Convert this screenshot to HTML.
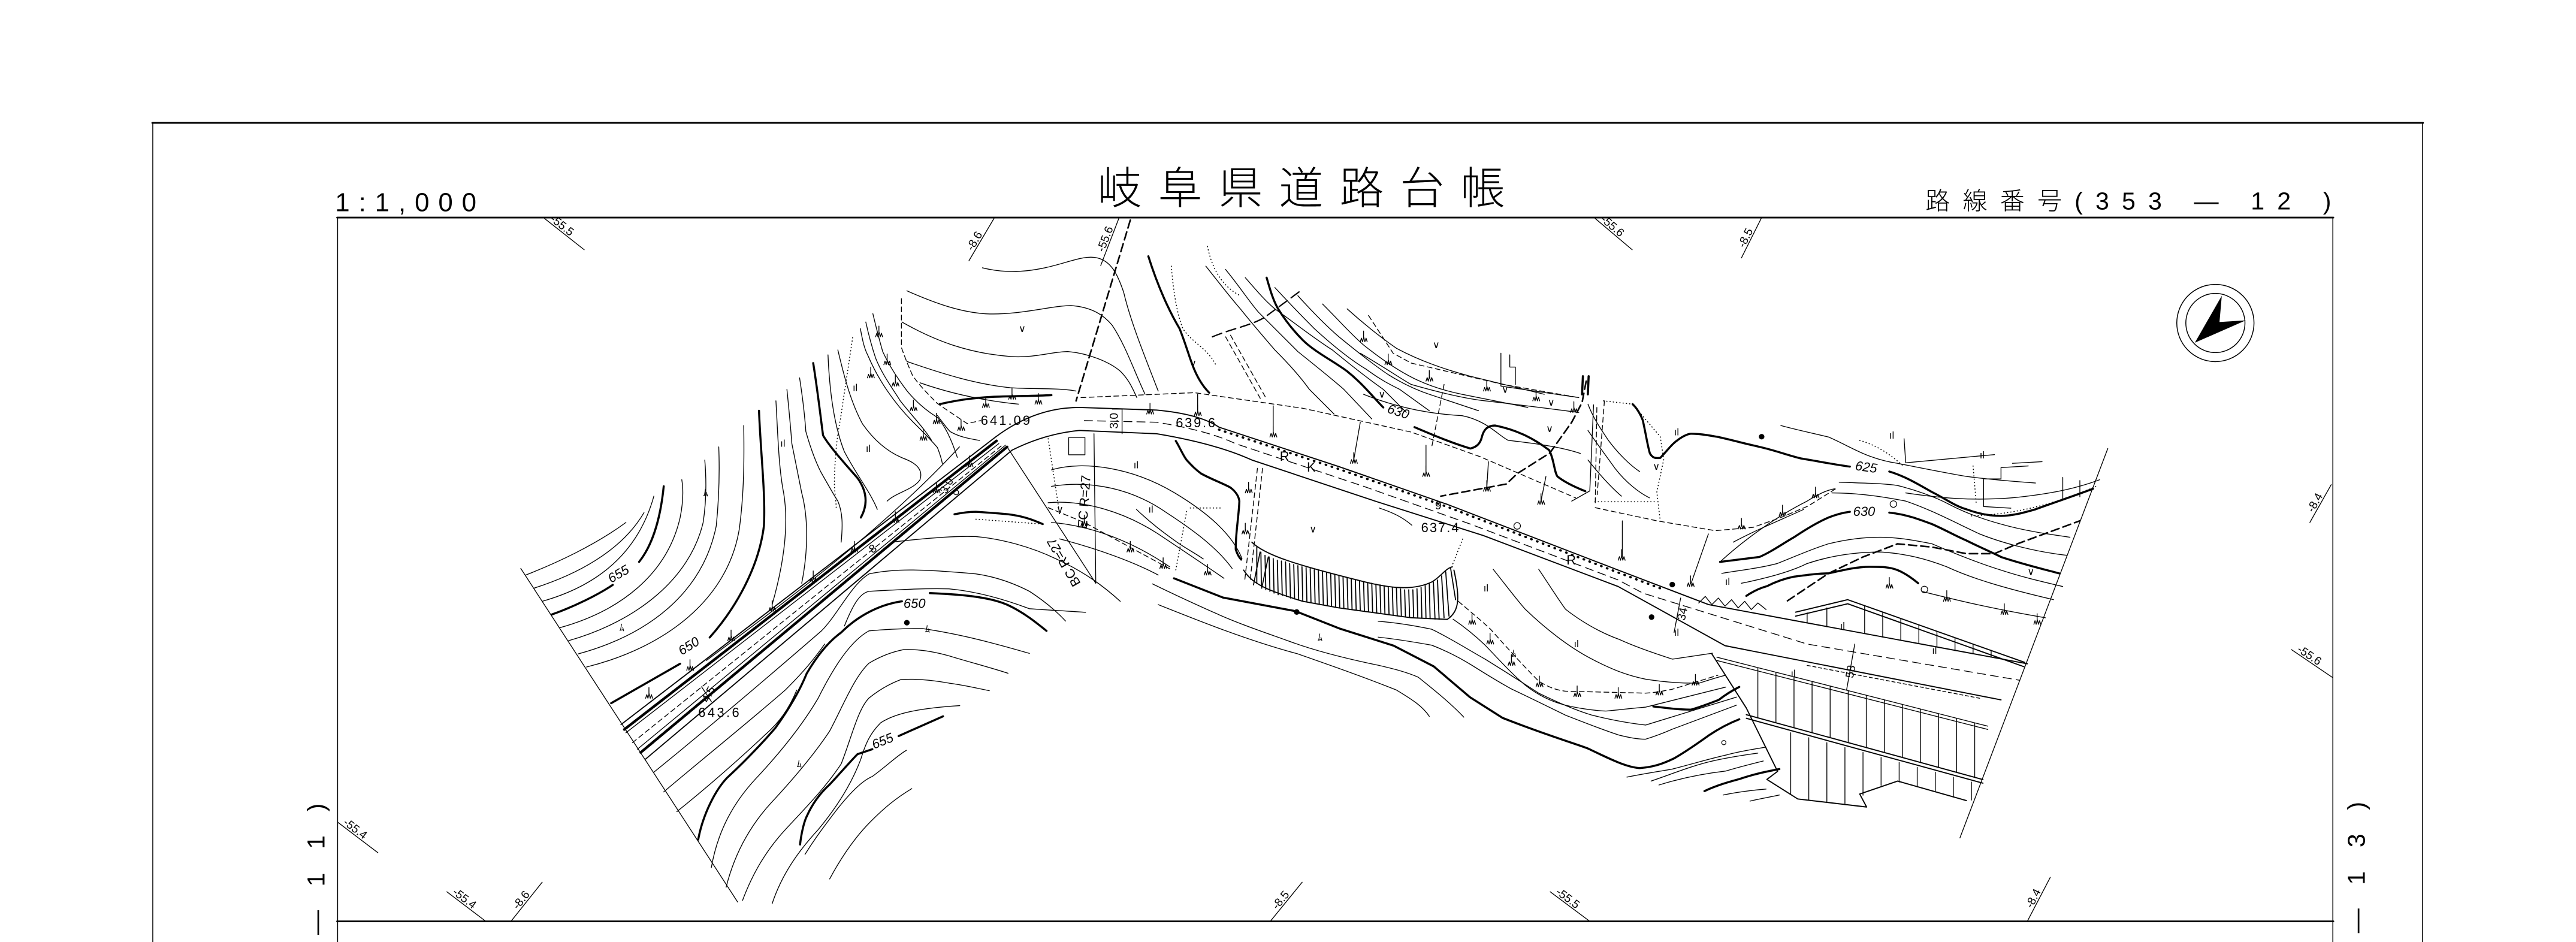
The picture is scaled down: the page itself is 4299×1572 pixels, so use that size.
<!DOCTYPE html>
<html><head><meta charset="utf-8"><style>
html,body{margin:0;padding:0;background:#fff;width:4299px;height:1572px;overflow:hidden}
svg{position:absolute;left:0;top:0}
path,line,polyline{fill:none;stroke:#000;stroke-linecap:round;stroke-linejoin:round}
.t{stroke-width:.5}.m{stroke-width:.7}.k{stroke-width:1.25}
.d{stroke-dasharray:3,2}.D{stroke-width:.95;stroke-dasharray:5,2.5}
.o{stroke-width:.6;stroke-dasharray:.2,1.8}
.h{stroke-width:1.6;stroke-dasharray:.7,.6}
.tk{stroke-width:1.4;stroke-dasharray:.3,3.5}
text{font-family:"Liberation Sans",sans-serif;fill:#000}
.sm{font-size:7px}.lb{font-size:8px}.veg{font-size:6px}
</style></head><body>
<svg width="4299" height="1572" viewBox="0 0 1568 573.36" preserveAspectRatio="none" xmlns="http://www.w3.org/2000/svg">
<defs><path id="w" d="M-2,0 l.7,-2.2 l.7,2.2 l.7,-2.8 l.7,2.8 l.7,-2.2 l.7,2.2 M0,-2.5 l0,-4" class="t"/></defs>
<rect x="0" y="0" width="1568" height="573.36" fill="#fff"/>
<!-- frames -->
<path d="M93,573.4 L93,74.8 M1474.6,74.8 L1474.6,573.4 M205.5,573.4 L205.5,132.4 M1420,132.4 L1420,573.4" style="stroke-width:.55"/>
<path d="M92.7,74.8 L1474.9,74.8 M205.2,132.4 L1420.3,132.4 M205.2,560.8 L1420.3,560.8" style="stroke-width:1.05"/>
<!-- header text -->
<text x="204" y="128.5" style="font-size:16px" textLength="86" lengthAdjust="spacing">1:1,000</text>
<text x="668" y="124" style="font-family:'Liberation Sans','Noto Sans CJK JP',sans-serif;font-size:27px;font-weight:300" textLength="248" lengthAdjust="spacing">岐阜県道路台帳</text>
<text x="1172" y="127.5" style="font-family:'Liberation Sans','Noto Sans CJK JP',sans-serif;font-size:15px;font-weight:300" textLength="247" lengthAdjust="spacing">路線番号(353 — 12 )</text>
<text transform="translate(197.5,569) rotate(-90)" style="font-size:15px" textLength="80" lengthAdjust="spacing">— 1 1 )</text>
<text transform="translate(1439.5,568) rotate(-90)" style="font-size:15px" textLength="80" lengthAdjust="spacing">— 1 3 )</text>
<!-- north arrow -->
<circle cx="1348.5" cy="196.6" r="23.5" fill="none" stroke="#000" stroke-width=".55"/>
<circle cx="1348.5" cy="196.6" r="18" fill="none" stroke="#000" stroke-width=".55"/>
<polygon points="1352.4,180 1351,196 1367,195 1336,208.6" fill="#000"/>
<!-- grid ticks -->
<g class="t">
<path d="M331.5,133 L355.6,152 M971,133 L993.5,152 M1394.8,395.4 L1420,412.5 M205.5,500.4 L230,519 M272,542.8 L296,561 M943.6,542.8 L968,561"/>
<path d="M589.8,158.7 L605,133 M670,161.6 L681,133 M1060,157 L1072,133 M1406,318 L1419,295 M311,560.8 L330,537 M773.2,560.8 L792.6,537 M1234,560.8 L1248,534"/>
</g>
<g class="sm">
<text transform="translate(331.5,133) rotate(38.3)" x="3" y="-1">-55.5</text>
<text transform="translate(971,133) rotate(40.2)" x="3" y="-1">-55.6</text>
<text transform="translate(1394.8,395.4) rotate(34.2)" x="3" y="-1">-55.6</text>
<text transform="translate(205.5,500.4) rotate(37.2)" x="3" y="-1">-55.4</text>
<text transform="translate(272,542.8) rotate(37.2)" x="3" y="-1">-55.4</text>
<text transform="translate(943.6,542.8) rotate(36.7)" x="3" y="-1">-55.5</text>
<text transform="translate(589.8,158.7) rotate(-59.4)" x="6" y="-1">-8.6</text>
<text transform="translate(670,161.6) rotate(-69)" x="8" y="-1">-55.6</text>
<text transform="translate(1060,157) rotate(-63.4)" x="6" y="-1">-8.5</text>
<text transform="translate(1406,318) rotate(-60.5)" x="6" y="-1">-8.4</text>
<text transform="translate(311,560.8) rotate(-51.4)" x="8" y="-1">-8.6</text>
<text transform="translate(773.2,560.8) rotate(-50.8)" x="8" y="-1">-8.5</text>
<text transform="translate(1234,560.8) rotate(-62.4)" x="8" y="-1">-8.4</text>
</g>
<!-- map boundaries -->
<path class="t" d="M317,346 L449,549 M1283,273 L1193,510"/>
<!-- ROAD -->
<path class="m" d="M378,441 L606,266 Q630,248 657,248 L704,249.6 Q730,252 742,260 L815,284 L881,307 L985,347 L1040,368 L1234,404"/>
<path class="h" d="M380,444 L607,268"/>
<path class="t" d="M381,446 L608,270"/>
<path class="t d" d="M385,452 L610,271"/>
<path class="t" d="M388,456 L612,271"/>
<path class="h" d="M390,458 L613,272"/>
<path class="m" d="M393,462 L616,274 Q636,264 657,262 L704,264 Q740,270 762,280 L837,305 L903,326 L985,357 L1050,393 L1218,426"/>
<path class="t" style="stroke-dasharray:5,3" d="M660,256 L704,257 Q735,262 752,270 L830,296 L895,319 L985,353 L1000,361 L1100,392 L1229,414"/>
<path class="tk" d="M742,261.5 L815,285.5 L881,308.5 L985,348.5 L1013,359"/>
<path class="t" style="stroke-dasharray:2,1.5" d="M1100,405 L1205,425"/>
<path class="t" d="M1045,400 L1210,442 M1045,402 L1210,444"/>
<path class="t" d="M1034,367 L1038,363 L1042,368 L1046,364 L1050,369 L1054,365 L1058,370 L1062,366 L1066,371 L1070,367 L1075,371"/>
<!-- upper wall structure -->
<path class="m" d="M1093,372.6 L1124.7,365 L1232.5,403.2 M1093,375 L1124.7,367.5 L1232,405.8"/>
<path class="t" d="M1100,373 L1100,379 M1112,370 L1112,381 M1135,368.6 L1135,385.7 M1146,372.5 L1146,387.8 M1157,376.4 L1157,389.8 M1168,380.3 L1168,391.9 M1179,384.2 L1179,393.9 M1190,388.1 L1190,396 M1201,392 L1201,398 M1212,395.9 L1212,400.1"/>
<!-- lower wall structure -->
<path class="m" d="M1042,398 L1063,431 L1082,469.5 L1075.5,474.4 L1094.3,486.3 L1136.2,491.2 L1132,483.3 L1155.1,475.4 L1197,487.3"/>
<path class="m" d="M1063,435 L1207,474.5 M1063,437.2 L1207,476.7"/>
<path class="t" d="M1070,406.4 L1070,436.9 M1081,409.2 L1081,439.9 M1092,412 L1092,443 M1103,414.8 L1103,446 M1114,417.6 L1114,449 M1125,420.4 L1125,452 M1136,423.2 L1136,455 M1147,426 L1147,458 M1158,428.8 L1158,461 M1169,431.6 L1169,464 M1180,434.4 L1180,467 M1191,437.2 L1191,470 M1202,440 L1202,473"/>
<path class="t" d="M1090,446 L1090,483 M1101,449 L1101,487 M1112,452 L1112,488 M1123,455 L1123,489 M1134,458 L1134,484 M1145,461 L1145,478 M1156,464 L1156,476 M1167,467 L1167,479 M1178,470 L1178,482 M1189,473 L1189,485 M1200,476 L1200,487"/>
<!-- CLIFF -->
<path class="m" d="M762,330 C770,338 790,344 826,353 C845,358 860,360 872,354 C878,350 880,346 884,345"/>
<path class="m" d="M757,347 C762,355 770,359 793,366 L815,370 L837,373 L859,376 L881,377 C888,372 889,365 885,347"/>
<path style="stroke-width:.65" d="M765,333 L765,355 M767.5,336 L767.8,357 M770,338 L770.5,359 M772.5,339 L773,360 M775,340 L775.5,361 M777.5,341 L778,362 M780,341.5 L780.5,362.5 M782.5,342 L783,363 M785,343 L785.5,364 M787.5,343.6 L788,364.6 M790,344.3 L790.5,365.3 M792.5,345 L793,365.8 M795,345.5 L795.5,366.2 M797.5,346 L798,366.7 M800,346.8 L800.5,367.2 M802.5,347.4 L803,367.6 M805,348 L805.5,368.1 M807.5,348.6 L808,368.5 M810,349.2 L810.5,369 M812.5,349.8 L813,369.5 M815,350.5 L815.5,370 M817.5,351 L818,370.3 M820,351.7 L820.5,370.7 M822.5,352.3 L823,371 M825,353 L825.5,371.4 M827.5,353.5 L828,371.7 M830,354 L830.5,372 M832.5,354.5 L833,372.4 M835,355 L835.5,372.7 M837.5,355.5 L838,373 M840,356 L840.5,373.4 M842.5,356.5 L843,373.7 M845,357 L845.5,374.1 M847.5,357.5 L848,374.4 M850,358 L850.5,374.8 M852.5,358.5 L853,375.1 M855,359 L855.5,375.4 M857.5,359 L858,375.7 M860,359 L860.5,376 M862.5,358.3 L863,376.1 M865,357.5 L865.5,376.3 M867.5,356.5 L868,376.5 M870,355.5 L870.5,376.6 M872.5,354.3 L873.5,376.8 M875,353 L876,377 M877.5,350.5 L879,376 M880,348 L882,375 M883,346 L886,365 M767,336 L763,356 M772,339 L768,358"/>
<path class="k" d="M715.7,268.4 C718,272 720,277 722.3,280 C726,284 728,286 731.2,288.3 C738,292 744,294 748.9,296.7 C752,299 754,302 754.4,305 C754,315 752,325 752.2,334.4 C753,337 754,339 755.5,340.6"/>
<path class="t d" d="M765.4,285 L757.7,353 M768.5,285 L761,353"/>
<!-- thick dashed parcel lines -->
<path class="D" d="M688,134 L655,244"/>
<path class="D" d="M965.5,232 L963,245 L956.7,257 L943.4,275.7 L923.5,288.3 L916.9,294.6 L877,302"/>
<path class="D" d="M1088,365.7 L1113,349 L1134,339 L1155,331 L1176,333 L1197,337 L1214,337 L1228,331 L1266,317"/>
<path class="D" style="stroke-dasharray:6,3;stroke-width:.8" d="M738,205 C750,200 762,198 770,193 L793,176"/>
<!-- thin dashed fences -->
<path class="t d" d="M658,242 L727,239 L793,248.5 L859,263 L901,278 L959,303"/>
<path class="t d" d="M833,192 L848,215 L859,221 L915,234 L961,242"/>
<path class="t d" d="M971,309 L1008.5,317 L1044,323 L1067,321 L1084,315 L1100.6,308 L1117.4,297.5"/>
<path class="t d" d="M548.7,181.8 L548.7,211.6 C551,218 553,223 555.5,228.6 C560,235 565,240 570.6,245.6 C577,250 583,254 588.7,257.8 L597,256"/>
<path class="t d" d="M638,309 L660,318 L713.5,347"/>
<path class="t d" d="M887.7,366 C897,374 902,378 907.3,383 C918,395 928,406 936.6,414.6 C942,418 947,420 952.9,420.7 L1001.7,421.9 C1008,421.5 1013,420.5 1018,419.5 L1045.7,411"/>
<path class="t d" d="M879,234 L871.6,271.5 M976.6,244 L972.2,301 M972,248 L971,307"/>
<path class="t d" d="M746,205 L768,244 M749,204 L771,243"/>
<!-- REGION A: arcs upper-left -->
<g class="t">
<path d="M320,350 C338,343 362,332 381,318"/>
<path d="M325,358 C350,350 378,336 392,312"/>
<path d="M330,366 C362,357 388,338 398,302"/>
<path d="M341,382 C377,372 406,350 414,315 C416,305 416,298 415,292"/>
<path d="M346,390 C388,378 420,352 428,318 C430,305 430,292 429,280"/>
<path d="M352,398 C396,386 428,360 436,320 C438,300 438,285 437.5,272"/>
<path d="M357,406 C405,394 443,365 450,322 C453,300 453,278 452.7,259"/>
<path d="M472.3,244 C473.5,265 474,285 477,300 C480,318 478,340 470,368"/>
<path d="M479,237 C480.5,252 481.4,262 482,270 C484,280 486,290 488,300 C492,315 492,335 488,355"/>
<path d="M486.7,230 C489,245 490,255 490.5,262.6 C494,275 497,282 499.5,287 C504,295 508,302 510,305 C513,312 513,320 512,330"/>
<path d="M504,216 C505,240 508,260 514,275 C522,290 530,300 534,310"/>
<path d="M510,213 C514,230 518,245 525,258 C532,268 540,275 550,279 C558,282 562,286 560,292 C556,298 545,300 540,305"/>
<path d="M430,402 C480,365 540,320 584,272"/>
<path d="M523.7,200 C525,207 526,212 528.3,216.4 C532,225 536,232 540.4,238.3 C545,245 550,251 555.5,256.6 C561,262 566,267 570.6,272.4 C572,276 573,279 573.6,282.1"/>
<path d="M531.3,190.9 C533,198 535,206 537.3,214 C541,222 546,230 552.4,238.3 C558,245 564,250 570.6,254.1 C576,260 580,270 582.7,278.4"/>
<path d="M527,196 C529,205 531,212 533,218 C537,228 543,236 548,244 C555,253 562,260 567,268"/>
<path d="M570.6,252.9 C573,256 575,259 578.2,262.6 C584,266 590,267 596.3,268.1"/>
</g>
<path class="k" d="M336,374 C350,369 364,362 373,356 M389,342 C397,332 402,316 404,296"/>
<path class="k" d="M372,428 L414,404 M432,388 C448,370 462,345 465,320 C466,300 463,276 462,250"/>
<path class="k" d="M495,221 C498,240 500,258 501,265 C505,272 515,283 522,291 C527,298 529,306 524,315"/>
<path class="k" d="M572,246 C585,243 595,242 605,241.5 C620,241 630,241 640,240.5"/>
<path class="o" d="M519,205.5 C516,226 513,245 511.6,255 C509,268 508,282 507.9,294.5 C508,300 509,305 509,310"/>
<path class="o" d="M594,316 L634.7,319 M638,267 L645,313"/>
<!-- top-middle waves -->
<g class="t">
<path d="M598,163 C610,166 622,166 636,163 C650,160 660,155 668,157 C676,159 680,166 684,178 C688,195 696,215 705,238"/>
<path d="M552,177 C570,185 585,190 600,191 C620,192 640,186 652,186 C665,187 672,192 677,198 C685,210 690,225 697,240"/>
<path d="M549,196 C570,208 590,215 615,217 C630,218 640,214 650,214 C662,215 675,220 682,226 C688,232 690,238 692,242"/>
<path d="M552,220 C575,228 595,234 615,236 C630,237 645,236 655,238"/>
<path d="M560,233 C580,240 600,244 620,246"/>
<path d="M734,162 C742,172 748,180 755,188 C763,198 770,206 776,213 C785,222 792,230 797,237 L812,252"/>
<path d="M746,164 C755,175 760,183 766,190 C776,200 784,208 790,214 C800,222 810,230 818,237 L835,255"/>
<path d="M758,169 C765,177 770,183 776,188 C790,198 800,206 811,213 C822,222 832,230 842,237 L856,251"/>
<path d="M776,175 C788,188 795,195 800,200 C812,211 822,219 832,225 C840,231 846,234 852,237 L870,250"/>
<path d="M790,180 C800,191 808,199 815,205 C826,214 836,222 845,228 C853,233 861,237 870,240 L900,250"/>
<path d="M805,185 C815,195 822,203 830,210 C840,218 850,225 860,230 C870,235 880,238 890,240 L930,248"/>
<path d="M820,188 C830,197 840,205 850,212 C865,220 880,225 895,229 L940,240"/>
<path d="M828,215 C845,225 855,232 859,234 C880,240 895,243 904,244 C930,247 945,249 961,251"/>
<path d="M830,240 C850,248 870,252 890,253 C905,256 912,265 918,268 C935,270 950,272 962,276"/>
<path d="M913.6,215 L913.6,235 L961,242 M919,216 L919,223.4 L922.4,223.4 L922.4,234"/>
<path d="M970,246.4 L967.7,298.8 L956.7,305"/>
</g>
<path class="k" d="M699,156 C705,175 712,190 718,200 C722,210 724,218 727,225 C730,232 733,236 736,239"/>
<path class="k" d="M771,169 C773,176 775,183 778,188 C783,196 788,202 793,207 C800,214 812,220 820,226 C830,234 836,242 842,248 M861,260 C875,266 885,270 895,273 C899,272 901,270 902,266 C903,262 905,259 910,259 C925,262 935,268 943,274 C946,280 946,287 948,290 C953,294 960,297 965,299"/>
<path style="stroke-width:1.3" d="M963.5,229 L963,240 M967,229 L966.5,240"/>
<path class="o" d="M713,162 C714,175 716,190 720,200 C725,208 735,212 740,222 M735,150 C738,165 745,175 755,180"/>
<!-- slope lines fence to road -->
<path class="t" d="M729,240 L729,251 M775,247 L775,264 M828,257 L824,280 M868,271 L868,288 M906,281 L905,297 M941,290 L938,305 M987.5,317 L987.5,339 M1039.9,325 L1029.4,355"/>
<!-- below road near curve -->
<g class="t">
<path d="M640,286 C660,280 690,285 715,300 C735,312 750,325 756,340"/>
<path d="M640,296 C665,292 690,298 710,312 C730,325 742,335 750,346"/>
<path d="M638,306 C660,304 685,312 705,325 C720,335 735,345 745,352"/>
<path d="M640,318 C665,320 690,330 712,345"/>
<path d="M645,328 C668,334 690,342 705,350"/>
<path d="M691.7,310 C700,318 708,324 716,329.7 C722,334 728,337 732.4,340.2"/>
<path d="M545.2,329.7 C560,328 580,326 594,326.6 C610,328 628,333 642.9,340.2 C660,348 672,357 681.9,366"/>
<path d="M613,272 L667,355 M665.9,264 L667,355"/>
<!-- below cliff -->
<path d="M701.5,355.4 C715,362 728,368 740.5,373.5 C755,380 770,385 784.2,390.1 C800,396 820,401 838.9,404.9 C848,407 856,409 863.3,412.2 C873,420 883,428 891,436.5"/>
<path d="M705,368 C730,378 760,390 790,398 C810,405 830,412 850,420 C860,426 866,430 870,436"/>
<path d="M838.9,387.8 C850,389 862,391 871.5,392.7 C880,396 888,400 895.9,404.9 C904,410 912,415 920.3,419.5 C932,425 942,430 952.9,435.3 C965,440 975,444 985.4,447.4 C992,449 997,450 1001.7,449.9 C1008,448 1013,446 1018,443.8 L1057,429.2"/>
<path d="M838.9,378.1 C850,379 862,381 871.5,383 C882,388 893,395 904,401.2 C915,408 926,415 936.6,421.9 C947,427 958,432 969.1,435.3 C980,438 990,440 1001.7,441.3 L1057,424.3"/>
<path d="M908.9,346.5 C918,358 924,366 928.4,370.8 C940,382 955,394 969.1,401.2 C980,407 990,411 1001.7,413.4 C1012,415 1024,416 1034.3,415.8 C1040,414 1046,412 1050.5,411"/>
<path d="M936.6,346.5 C943,356 948,364 952.9,370.8 C962,378 974,385 985.4,389.1 C996,394 1008,398 1018,401.2 L1042.4,397.6"/>
<path d="M884.5,376.9 C892,382 898,387 904,392.7 C912,401 920,410 928.4,417 C936,423 944,427 952.9,429.2 C960,431 970,432.5 977.3,432.8 C986,432 994,431 1001.7,430.4 L1050.5,418.2"/>
<path d="M990.3,473 C1000,471 1010,469.5 1018,468.1 C1030,465 1040,462 1050.5,459.6 C1060,457 1068,456 1075,454.7"/>
<path d="M1005,475.4 C1018,471 1030,466 1042.4,463.2 C1052,461 1062,459.5 1070,458.4"/>
<path d="M1009.8,477.8 C1022,474 1036,471 1050.5,469.3 C1058,467 1066,465 1073.3,463.2"/>
<path d="M1048.9,483.9 C1058,482 1066,481 1075,480.3"/>
<path d="M1065.2,487.6 C1072,486 1078,485 1083.1,483.9"/>
<path d="M839.5,309.2 C848,312 854,315 859.4,319.7"/>
<path d="M724.5,309.2 L744.4,309.2" class="o"/>
<path d="M890.3,328.1 L883.7,344.8 M722.3,311.3 L715.7,347" class="o"/>
</g>
<path class="k" d="M714.6,352 L744.4,363.7 L788.6,372 L815.2,382.5 L848.3,393 L872.7,405.6 L894.8,424.4 L914.7,437 C940,447 960,453 966.6,455.6 C980,462 990,467 998,467.5 C1006,467 1012,465 1019,461.6 C1027,457 1034,452 1040,447.7 C1047,443 1053,440 1058.7,437.8"/>
<path class="k" d="M1006.4,430 C1015,431 1022,432 1029.4,431.9 C1036,430 1041,428 1046.2,426 C1050,423 1055,420 1058.7,418.1"/>
<path class="k" d="M1037.5,481.5 C1045,478 1052,476 1058.7,474.2 C1068,471 1076,469.5 1083.1,468.1"/>
<!-- REGION C below road left -->
<g class="t">
<path d="M398,470 C430,444 470,410 500,384 C510,374 518,356 529,349.3 C545,346 560,346.3 594,349.3 C606,351 617,355 626.6,359.9 C636,366 643,372 648.6,378"/>
<path d="M514,381 C520,366 524,361 529,359.9 C545,359 562,358 577.7,358.4 C595,360 612,365 626.6,370.5 C640,371.5 652,372 660.8,372.7"/>
<path d="M404,482 C430,460 455,440 478,420 C488,410 495,402 502,392"/>
<path d="M412,494 C432,478 450,462 466,447 C474,440 480,432 485,420"/>
<path d="M433,528 C437,505 447,488 460,474 C475,458 488,442 498,425 C508,405 518,390 528.9,384 C540,383 552,382.5 561.5,382.6 C585,386 607,392 626.6,397.7"/>
<path d="M442,540 C447,520 456,503 470,488 C483,474 495,460 505,445 C513,430 520,412 528.9,403.7 C535,400 542,397 550,395.4 C560,395 570,397 577.7,399.2 C590,403 602,406 613.6,409.8"/>
<path d="M452,548 C458,532 466,518 478,505 C490,492 502,480 512,465 C518,450 522,432 528.9,424.9 C535,420 542,416 548.4,413.6 C558,413 568,414 577.7,415.8 C587,417 595,419 602.2,420.4"/>
<path d="M470,550 C476,532 486,518 498,505 C508,493 518,478 524,462 C527,452 530,446 536,440 C545,434 560,431 584.2,429.5"/>
<path d="M490,520 C495,512 500,505 510,492 C518,482 525,475 531,472.6 C540,466 546,460 551.7,456.7"/>
<path d="M505,535 C512,522 520,510 530,500 C538,492 545,486 555,480"/>
</g>
<path class="k" d="M425,511 C428,495 436,480 443,473 C455,462 466,450 472,443 C480,432 487,420 491,410 C498,398 505,390 512,385 C522,375 535,368 549,366 M566,361 C590,362 605,364 615,369 C625,374 632,380 637,384"/>
<path class="k" d="M487,514 C488,505 490,499 491,497 C495,488 500,482 505,477.5 C512,470 518,463 522,459 L531,456 M547,448 L574,436"/>
<path class="k" d="M581,313 C586,312 590,311.5 594,311.5 C602,312 608,312.5 613.6,313 C622,314 628,316 634.7,319"/>
<!-- RIGHT REGION -->
<g class="t">
<path d="M1084,259 C1095,262 1105,264 1113,266 C1120,269 1127,273 1134,276 C1141,279 1148,281 1155,282 C1170,285 1185,288 1197,290 C1212,292 1225,293 1239,294"/>
<path d="M1119.5,293.5 C1130,294 1145,294 1155,295.5 C1165,298 1177,302 1186.5,307 C1196,312 1207,316 1218,319 C1232,323 1246,325 1260,327"/>
<path d="M1115,300 C1130,300 1145,302 1160,305 C1175,310 1190,318 1205,325 C1220,331 1240,336 1258,338"/>
<path d="M1048,349 C1060,347 1070,346 1081.8,343 C1092,339 1103,334 1113,331 C1125,328 1135,327 1144.6,327 C1155,327 1166,329 1176,331 C1190,337 1205,343 1218,347 C1230,351 1243,354 1255.6,357"/>
<path d="M1060,355 C1075,352 1090,348 1100,343 C1115,338 1130,336 1145,336 C1160,337 1172,340 1185,345 C1200,352 1220,358 1250,365"/>
<path d="M1170,360 C1190,365 1210,370 1245,376"/>
<path d="M1160,300 C1180,303 1200,305 1225,303 C1245,301 1262,298 1278,292"/>
<path d="M1159,267 L1160,281.7 L1214,276.7 M1234.6,283.6 L1218,284.6 L1218,291.5 L1207.4,291.5 L1207.4,308.3 L1224,309.3 M1225,282 L1243,281"/>
<path d="M1255.6,290.6 L1255.6,303.4 M1266,292.5 L1266,302.4"/>
<path d="M966.6,246 C970,255 975,262 979,268 C985,276 992,283 998,287"/>
<path d="M966.6,262 C972,270 978,278 983,285 C990,294 998,300 1004,303"/>
<path d="M966.6,280 C973,288 980,296 987,302"/>
<path d="M1047,342 C1060,330 1080,315 1100,305 C1108,300 1113,298 1117,297.5"/>
<path d="M1055,330 C1070,322 1085,316 1098,310"/>
</g>
<path class="k" d="M993.8,246 C998,250 1000,256 1000,256 C1002,265 1003,272 1004.3,276 C1006,279 1008,279 1010.6,278.7 C1015,274 1018,270 1021,268 C1025,265 1028,264 1029.4,264 C1035,264 1040,265 1046,266 C1055,268 1062,270 1071,272 C1080,274 1088,277 1096,279 C1108,281 1118,283 1126,284 M1150,287 C1160,290 1168,295 1176,299.5 C1185,304 1190,308 1197,310 C1205,313 1212,314 1218,314 C1225,314 1232,312 1239,310 C1250,306 1262,302 1274,297.5"/>
<path class="k" d="M1047,342 C1055,341 1063,340 1071,339 C1078,336 1085,331 1092,327 C1098,323 1106,318 1113,315 C1118,313 1122,312 1126,311.5 M1150,312 C1160,313 1168,316 1176,319 C1183,322 1190,326 1197,329 C1205,333 1212,336 1218,339 C1230,343 1242,346 1253.5,349"/>
<path class="k" d="M1063,362.7 C1067,360 1071,358 1075.5,356.8 C1081,354 1087,352 1092,351 C1100,350 1106,349 1113,349 C1122,347 1130,345 1138,345 C1145,345 1150,345 1155,347 C1160,349 1164,352 1167.6,355"/>
<path class="o" d="M976,244 L993.8,246 L1010.6,265.8 L1012.7,279.7 L1008.5,299.5 L1010.6,317.2 M970.8,305.4 L1008.5,305.4 M1201,283.6 L1203,307.4 M1200,314 C1230,313 1255,305 1276,296 M1132,268 C1145,272 1152,278 1159,284"/>
<!-- slope symbols -->
<g>
<use href="#w" x="395" y="425"/><use href="#w" x="420" y="408"/><use href="#w" x="445" y="390"/><use href="#w" x="470" y="372"/><use href="#w" x="495" y="354"/><use href="#w" x="520" y="336"/><use href="#w" x="545" y="318"/><use href="#w" x="570" y="300"/><use href="#w" x="590" y="284"/>
<use href="#w" x="545" y="235"/><use href="#w" x="556" y="250"/><use href="#w" x="570" y="258"/><use href="#w" x="585" y="262"/><use href="#w" x="600" y="248"/><use href="#w" x="616" y="243"/><use href="#w" x="632" y="246"/><use href="#w" x="535" y="205"/><use href="#w" x="540" y="222"/><use href="#w" x="530" y="230"/><use href="#w" x="562" y="268"/>
<use href="#w" x="700" y="252"/><use href="#w" x="729" y="253"/><use href="#w" x="775" y="266"/><use href="#w" x="824" y="282"/><use href="#w" x="868" y="290"/><use href="#w" x="905" y="299"/><use href="#w" x="938" y="307"/>
<use href="#w" x="830" y="208"/><use href="#w" x="845" y="222"/><use href="#w" x="870" y="232"/><use href="#w" x="905" y="238"/><use href="#w" x="935" y="244"/><use href="#w" x="958" y="251"/>
<use href="#w" x="660" y="320"/><use href="#w" x="688" y="336"/><use href="#w" x="708" y="346"/><use href="#w" x="735" y="350"/>
<use href="#w" x="896" y="380"/><use href="#w" x="907" y="392"/><use href="#w" x="920" y="405"/><use href="#w" x="937" y="418"/><use href="#w" x="960" y="424"/><use href="#w" x="985" y="425"/><use href="#w" x="1010" y="423"/><use href="#w" x="1032" y="417"/>
<use href="#w" x="987" y="341"/><use href="#w" x="1029" y="357"/><use href="#w" x="1060" y="322"/><use href="#w" x="1085" y="314"/><use href="#w" x="1105" y="303"/>
<use href="#w" x="1150" y="358"/><use href="#w" x="1185" y="366"/><use href="#w" x="1220" y="374"/><use href="#w" x="1240" y="380"/>
<use href="#w" x="760" y="300"/><use href="#w" x="758" y="325"/>
</g>
<!-- points -->
<circle cx="552" cy="379" r="1.7"/><circle cx="789.3" cy="372.5" r="1.7"/><circle cx="1072.3" cy="265.8" r="1.7"/><circle cx="1017.9" cy="355.8" r="1.7"/><circle cx="1005.3" cy="375.6" r="1.7"/>
<g fill="none" stroke="#000" stroke-width=".45"><circle cx="1152.5" cy="306.8" r="2"/><circle cx="1171.4" cy="358.8" r="2"/><circle cx="923.5" cy="320.1" r="2"/><circle cx="582" cy="299.7" r="1.5"/><circle cx="1049.3" cy="452" r="1.3"/></g>
<path class="t" d="M650.5,266.3 L660.4,266.3 L660.4,276.8 L650.5,276.8 Z"/>
<!-- map labels -->
<g class="lb">
<text x="597" y="258.6" textLength="30">641.09</text>
<text x="715.7" y="260" textLength="24">639.6</text>
<text x="865" y="323.9" textLength="23">637.4</text>
<text x="425" y="436.4" textLength="25">643.6</text>
<text transform="translate(415,399) rotate(-32)" font-style="italic">650</text>
<text transform="translate(372,355) rotate(-30)" font-style="italic">655</text>
<text x="550" y="370" font-style="italic">650</text>
<text transform="translate(532,456) rotate(-22)" font-style="italic">655</text>
<text transform="translate(844,251) rotate(18)" font-style="italic">630</text>
<text transform="translate(1129,286) rotate(8)" font-style="italic">625</text>
<text x="1128" y="314" font-style="italic">630</text>
<text x="779" y="280.5">R</text><text x="795.5" y="287">K</text><text x="953.5" y="343.5">R</text>
<text transform="translate(658,355) rotate(-120)">BC R=27</text>
<text transform="translate(661.5,322) rotate(-86)">EC R=27</text>
</g>
<g class="sm">
<text x="873.5" y="310">9</text>
<text transform="translate(680.5,261) rotate(-90)">3.0</text>
<text transform="translate(576,301) rotate(-62)">3.0</text>
<text transform="translate(531,337) rotate(-35)">8</text>
<text transform="translate(431,428) rotate(-62)">4.5</text>
<text transform="translate(1025.5,378) rotate(-78)">34</text>
<text transform="translate(1128,413) rotate(-80)">58</text>
</g>
<path class="t" d="M677,249 L683,249 L683,264 M1023,364 L1019,385 M1129,392 L1124,420 M427,418 L433,427"/>
<g class="veg">
<text x="620" y="202">∨</text><text x="724" y="223">∨</text><text x="797" y="324">∨</text><text x="872" y="212">∨</text><text x="839" y="242">∨</text><text x="914" y="239">∨</text><text x="941" y="263">∨</text><text x="1006" y="286">∨</text><text x="1234" y="350">∨</text><text x="942" y="247">∨</text><text x="643" y="312">∨</text>
<text x="475" y="272">ıl</text><text x="519" y="238">ıl</text><text x="527" y="275">ıl</text><text x="690" y="285">ıl</text><text x="699" y="312">ıl</text><text x="903" y="360">ıl</text><text x="1019" y="387">ıl</text><text x="1090" y="412">ıl</text><text x="1120" y="383">ıl</text><text x="1176" y="398">ıl</text><text x="1150" y="267">ıl</text><text x="1205" y="279">ıl</text><text x="1019" y="265">ıl</text><text x="958" y="394">ıl</text><text x="1050" y="356">ıl</text>
<text x="428" y="302">ﾑ</text><text x="377" y="384">ﾑ</text><text x="485" y="467">ﾑ</text><text x="563" y="385">ﾑ</text><text x="802" y="390">ﾑ</text><text x="920" y="400">ﾑ</text>
</g>
</svg>
</body></html>
